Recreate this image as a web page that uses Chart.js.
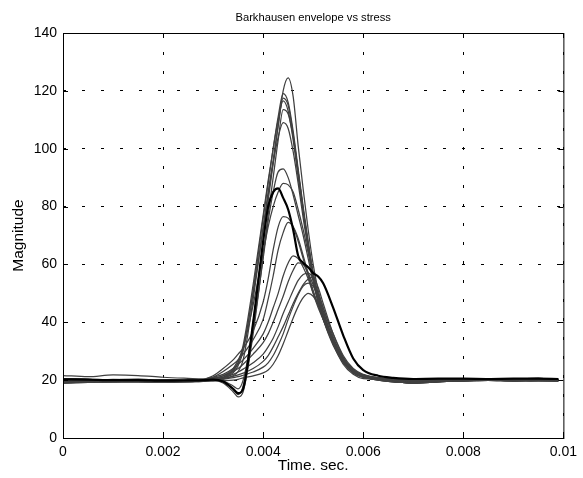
<!DOCTYPE html>
<html>
<head>
<meta charset="utf-8">
<script src="https://cdn.jsdelivr.net/npm/chart.js@4.4.1/dist/chart.umd.min.js"></script>
<style>
  html, body { margin: 0; padding: 0; background: #fff; }
  #wrap { width: 583px; height: 478px; }
</style>
</head>
<body>
<div id="wrap"><canvas id="envelope-chart" width="583" height="478"></canvas></div>
<script>
// sample times (s), shared by every envelope
const times = [0, 0.0005, 0.001, 0.0015, 0.002, 0.0025, 0.0028, 0.003, 0.0032, 0.0034,
  0.0035, 0.0036, 0.0038, 0.004, 0.0041, 0.0042, 0.0043, 0.0044, 0.0045, 0.0046,
  0.0047, 0.0048, 0.0049, 0.005, 0.0051, 0.0052, 0.0054, 0.0056, 0.0058, 0.006,
  0.0063, 0.0066, 0.007, 0.0075, 0.008, 0.0085, 0.009, 0.0095, 0.0099];

// envelopes, named by their peak magnitude
const peak124 = [20.0, 19.8, 20.2, 20.3, 20.0, 19.8, 20.0, 20.3, 20.5, 21.5,
  23, 27, 48, 73, 85, 96, 108, 120, 124.5, 118,
  101, 86, 72, 60, 51, 45, 36, 28.5, 24, 22,
  20.8, 20.2, 19.8, 20.0, 20.1, 20.0, 20.2, 20.1, 20.0];
const peak119 = [19.4, 19.6, 19.5, 19.8, 19.6, 19.5, 19.8, 20.3, 20.8, 22.5,
  25, 30, 51, 76, 88, 100, 111, 119, 116, 106,
  93, 80, 68, 57, 49, 43, 34, 27.5, 23.5, 21.8,
  20.6, 20.0, 19.6, 19.8, 20.0, 20.2, 20.0, 19.9, 20.0];
const peak117 = [20.5, 20.3, 20.0, 19.9, 20.2, 20.0, 20.2, 21.0, 19.5, 17,
  15, 18, 40, 68, 82, 95, 108, 117.5, 115, 105,
  92, 79, 67, 56, 48, 42, 33, 27, 23, 21.5,
  20.5, 20.0, 19.5, 19.6, 20.0, 20.1, 20.3, 20.2, 20.1];
const peak116 = [20.1, 19.9, 20.3, 20.2, 20.0, 19.9, 20.1, 20.6, 21, 23,
  26, 32, 53, 77, 89, 100, 110, 116.5, 113, 103,
  90, 78, 66, 55, 47, 41, 32.5, 26.5, 23, 21.2,
  20.3, 19.6, 19.0, 19.4, 19.8, 20.0, 20.0, 19.8, 19.9];
const peak113 = [19.0, 19.2, 19.4, 19.4, 19.3, 19.5, 19.6, 20.0, 19, 16,
  14.2, 16, 36, 63, 77, 90, 103, 113.5, 112, 104,
  92, 79, 67, 57, 49, 43, 34, 27.5, 23.5, 21.5,
  20.8, 20.4, 20.0, 20.2, 20.3, 20.2, 20.4, 20.6, 20.3];
const peak109 = [19.5, 19.7, 19.6, 19.8, 19.7, 19.6, 19.9, 20.4, 21, 23.5,
  26, 31, 50, 72, 84, 95, 104, 109, 107, 99,
  88, 76, 65, 55, 47, 41, 32, 26, 22.5, 21,
  20.0, 19.4, 19.2, 19.6, 19.7, 19.9, 19.7, 19.8, 19.7];
const peak93 = [20.4, 20.2, 20.0, 19.9, 20.1, 20.0, 20.1, 20.6, 19.8, 18,
  17, 20, 38, 62, 75, 85, 92, 93, 90, 84,
  77, 70, 62, 54, 47, 41.5, 33, 26.5, 23, 21.3,
  20.6, 20.1, 19.7, 19.9, 20.1, 20.0, 20.2, 20.1, 20.0];
const peak88 = [20.0, 19.8, 20.2, 20.3, 20.0, 19.8, 20.0, 20.5, 21.5, 24,
  27, 31, 46, 64, 73, 80, 85, 88, 87.5, 85,
  79, 72, 64, 56, 49, 43, 34, 27.5, 23.5, 21.8,
  20.3, 19.6, 19.0, 19.4, 19.8, 20.0, 20.0, 19.8, 19.9];
const peak86 = [20.3, 20.2, 20.0, 20.0, 19.8, 19.9, 20.0, 20.2, 19.5, 17,
  15.5, 17, 40, 68, 80, 85, 86.3, 83, 79, 72,
  63, 60.5, 59, 57, 55.8, 53.5, 45, 35.5, 27.5, 23.5,
  21.5, 20.8, 20.4, 20.5, 20.5, 20.4, 20.5, 20.5, 20.4];
const peak77 = [21.6, 21.2, 21.8, 21.6, 21.0, 20.6, 20.4, 21.5, 24, 27,
  29, 31, 37, 47, 55, 65, 73, 76.5, 76, 73,
  68, 62, 56, 50, 45, 41, 33, 27, 23.5, 21.8,
  20.8, 20.4, 20.0, 20.2, 20.3, 20.2, 20.4, 20.6, 20.3];
const peak74 = [19.4, 19.6, 19.5, 19.8, 19.6, 19.5, 19.8, 21.0, 23, 25.5,
  27, 29, 34, 41, 48, 56, 65, 71, 74.5, 73,
  69, 63, 57, 51, 46, 41.5, 33, 27, 23, 21.5,
  20.6, 20.1, 19.7, 19.9, 20.1, 20.0, 20.2, 20.1, 20.0];
const peak63 = [20.5, 20.3, 20.0, 19.9, 20.2, 20.0, 20.2, 21.0, 22, 24,
  25.5, 27, 31, 36, 40, 45, 50, 56, 60.5, 63,
  62, 59, 55, 50, 46, 41, 33, 26.5, 23, 21.3,
  20.0, 19.4, 19.2, 19.6, 19.7, 19.9, 19.7, 19.8, 19.7];
const peak60 = [20.0, 19.8, 20.2, 20.3, 20.0, 19.8, 20.0, 20.5, 21.5, 23,
  24, 25.5, 29, 33, 36, 40, 44.5, 49, 54, 58,
  60.5, 60, 57, 53, 48, 43, 34, 27, 23, 21.5,
  20.8, 20.4, 20.0, 20.2, 20.3, 20.2, 20.4, 20.6, 20.3];
const peak57 = [19.0, 19.2, 19.4, 19.4, 19.3, 19.5, 19.6, 20.0, 20.8, 22,
  22.8, 23.8, 26, 29, 31.5, 34.5, 38.5, 43, 47, 51,
  54.5, 56.5, 57, 55, 50, 45, 35, 27.5, 23, 21.2,
  20.3, 19.6, 19.0, 19.4, 19.8, 20.0, 20.0, 19.8, 19.9];
const peak55 = [19.4, 19.6, 19.5, 19.8, 19.6, 19.5, 19.8, 20.0, 20.5, 21.3,
  21.8, 22.4, 24, 26.5, 28.5, 31.5, 35, 38.5, 42.5, 46.5,
  50, 53, 55, 55.5, 52, 46.5, 36, 28, 23.2, 21,
  20.6, 20.1, 19.7, 19.9, 20.1, 20.0, 20.2, 20.1, 20.0];
const peak53 = [20.5, 20.3, 20.0, 19.9, 20.2, 20.0, 20.2, 20.2, 20.3, 20.9,
  21.2, 21.7, 22.8, 24.5, 26, 28.5, 32, 36, 41, 45.5,
  49.5, 52.5, 53.5, 52.5, 49, 44, 34, 26.5, 22.5, 21,
  20.0, 19.4, 19.2, 19.6, 19.7, 19.9, 19.7, 19.8, 19.7];
const peak50 = [19.0, 19.2, 19.4, 19.4, 19.3, 19.5, 19.6, 19.7, 19.8, 20,
  20.3, 20.8, 21.5, 22.5, 23.5, 25.5, 28.5, 32.5, 37, 41.5,
  45.5, 48.5, 50, 49, 46, 41.5, 32.5, 25.5, 22, 20.5,
  20.3, 19.6, 19.0, 19.4, 19.8, 20.0, 20.0, 19.8, 19.9];

const xTicks = [0, 0.002, 0.004, 0.006, 0.008, 0.01];
const yTicks = [0, 20, 40, 60, 80, 100, 120, 140];

const grayEnvelopes = [peak124, peak119, peak117, peak116, peak113, peak109, peak93, peak88,
  peak77, peak74, peak63, peak60, peak57, peak55, peak53, peak50];

const toPoints = (vals) => vals.map((v, i) => ({ x: times[i], y: v }));

// black heavy trace first so it sits on top
const datasets = [{
  data: toPoints(peak86),
  borderColor: "#000",
  borderWidth: 2.2,
}].concat(grayEnvelopes.map((vals) => ({
  data: toPoints(vals),
  borderColor: "#404040",
  borderWidth: 1.25,
})));

// matlab style box with inward ticks
const boxPlugin = {
  id: "box",
  afterDraw(chart) {
    const { ctx, chartArea: a, scales } = chart;
    ctx.save();
    ctx.strokeStyle = "#000";
    ctx.lineWidth = 1;
    ctx.strokeRect(a.left + 0.5, a.top + 0.5, a.right - a.left, a.bottom - a.top);
    ctx.beginPath();
    xTicks.forEach((v) => {
      const px = Math.round(scales.x.getPixelForValue(v)) + 0.5;
      ctx.moveTo(px, a.bottom); ctx.lineTo(px, a.bottom - 5);
      ctx.moveTo(px, a.top); ctx.lineTo(px, a.top + 5);
    });
    yTicks.forEach((v) => {
      const py = Math.round(scales.y.getPixelForValue(v)) + 0.5;
      ctx.moveTo(a.left, py); ctx.lineTo(a.left + 5, py);
      ctx.moveTo(a.right, py); ctx.lineTo(a.right - 5, py);
    });
    ctx.stroke();
    ctx.restore();
  },
};

Chart.defaults.font.family = "'Liberation Sans', Arial, sans-serif";
Chart.defaults.color = "#000";

const ctx = document.getElementById("envelope-chart").getContext("2d");
new Chart(ctx, {
  type: "line",
  data: { datasets: datasets },
  options: {
    responsive: false,
    animation: false,
    layout: { padding: { left: 0, right: 17, top: 0, bottom: 0 } },
    elements: {
      point: { radius: 0 },
      line: { cubicInterpolationMode: "monotone" },
    },
    plugins: {
      legend: { display: false },
      tooltip: { enabled: false },
      title: {
        display: true,
        fullSize: false,
        text: "Barkhausen envelope vs stress",
        font: { size: 11.2, weight: "normal" },
        color: "#000",
        padding: { top: 11, bottom: 8.56 },
      },
    },
    scales: {
      x: {
        type: "linear",
        min: 0,
        max: 0.01,
        afterBuildTicks: (scale) => { scale.ticks = xTicks.map((v) => ({ value: v })); },
        afterFit: (scale) => { scale.height = 40; },
        ticks: { font: { size: 14 }, padding: 6, maxRotation: 0, callback: (v) => String(v) },
        grid: { color: "#000", drawTicks: false },
        border: { display: false, dash: [3, 16] },
        title: { display: true, text: "Time. sec.", font: { size: 15.5 }, padding: { top: 0, bottom: 2.7 } },
      },
      y: {
        min: 0,
        max: 140,
        afterBuildTicks: (scale) => { scale.ticks = yTicks.map((v) => ({ value: v })); },
        afterFit: (scale) => { scale.width = 63; },
        ticks: { font: { size: 14 }, padding: 6, callback: (v) => String(v) },
        grid: { color: "#000", drawTicks: false },
        border: { display: false, dash: [3, 16] },
        title: { display: true, text: "Magnitude", font: { size: 15.5 }, padding: { top: 9, bottom: 0 } },
      },
    },
  },
  plugins: [boxPlugin],
});
</script>
</body>
</html>
